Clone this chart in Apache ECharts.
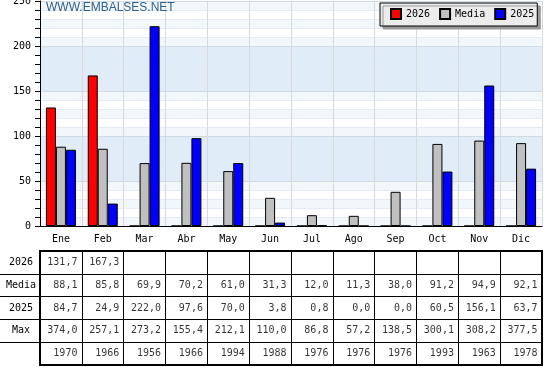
<!DOCTYPE html>
<html><head><meta charset="utf-8">
<script src="https://cdn.jsdelivr.net/npm/echarts@6/dist/echarts.min.js"></script>
<style>html,body{margin:0;padding:0;background:#fff}#c{width:560px;height:375px}</style>
</head><body><div id="c"></div>
<script>
const months = ['Ene','Feb','Mar','Abr','May','Jun','Jul','Ago','Sep','Oct','Nov','Dic'];
const rowLabels = ['2026','Media','2025','Max',''];
const v2026 = [131.7,167.3,null,null,null,null,null,null,null,null,null,null];
const vMedia = [88.1,85.8,69.9,70.2,61.0,31.3,12.0,11.3,38.0,91.2,94.9,92.1];
const v2025 = [84.7,24.9,222.0,97.6,70.0,3.8,0.8,0.0,0.0,60.5,156.1,63.7];
const vMax = [374.0,257.1,273.2,155.4,212.1,110.0,86.8,57.2,138.5,300.1,308.2,377.5];
const maxYears = [1970,1966,1956,1966,1994,1988,1976,1976,1976,1993,1963,1978];
const yTicks = [0,50,100,150,200,250];

const FONT = 'DejaVu Sans Mono';
function fmt(v){ return v.toFixed(1).replace('.', ','); }

const tableRows = [v2026, vMedia, v2025, vMax, maxYears];
const cells = [];
tableRows.forEach((row, r) => row.forEach((v, i) => {
  if (v != null) cells.push({value: [i, r], text: r === 4 ? String(v) : fmt(v)});
}));

const light = ['#f2f7fc', '#ffffff'];
const dark = ['#e0edf8', '#e0edf8'];
const bandColors = [light[0],light[1],light[0],light[1],light[0], dark[0],dark[1],dark[0],dark[1],dark[0]];

const chart = echarts.init(document.getElementById('c'), null, {renderer: 'canvas'});
chart.setOption({
  animation: false,
  title: {text: 'WWW.EMBALSES.NET', left: 46, top: 2, padding: 0,
    textStyle: {fontFamily: 'Liberation Sans', fontSize: 12, fontWeight: 'normal', color: '#2e5f8a'}},
  legend: {left: 380, top: 3, orient: 'horizontal', itemWidth: 10, itemHeight: 10, itemGap: 9,
    padding: [5, 3, 6, 10], backgroundColor: '#ececec', borderColor: '#000', borderWidth: 1,
    shadowColor: '#999', shadowOffsetX: 3, shadowOffsetY: 3, shadowBlur: 0, icon: 'rect',
    textStyle: {fontFamily: FONT, fontSize: 10, color: '#000'},
    data: ['2026', 'Media', '2025']},
  grid: [
    {left: 40, right: 18, top: 1, height: 225, outerBoundsMode: 'none', containLabel: false},
    {left: 40, right: 18, top: 251, height: 114, show: true, borderColor: '#000', borderWidth: 2, backgroundColor: 'transparent', outerBoundsMode: 'none', containLabel: false},
    {left: 0, width: 40, top: 251, height: 114, outerBoundsMode: 'none', containLabel: false}
  ],
  xAxis: [
    {gridIndex: 0, type: 'category', data: months,
      axisLine: {lineStyle: {color: '#000'}},
      axisTick: {inside: true, length: 6, interval: 0, lineStyle: {color: '#000'}},
      axisLabel: {color: '#000', fontFamily: FONT, fontSize: 10, margin: 8, interval: 0},
      splitLine: {show: true, interval: 0, lineStyle: {color: '#d9d9d9'}}},
    {gridIndex: 1, type: 'category', data: months,
      axisLine: {show: false}, axisTick: {show: false}, axisLabel: {show: false},
      splitLine: {show: true, interval: 0, showMinLine: false, showMaxLine: false, lineStyle: {color: '#000'}}},
    {gridIndex: 2, type: 'category', data: [''], show: false}
  ],
  yAxis: [
    {gridIndex: 0, type: 'value', min: 0, max: 250, interval: 10,
      axisLine: {show: true, lineStyle: {color: '#000'}},
      axisTick: {show: true, length: 5, lineStyle: {color: '#000'}},
      axisLabel: {color: '#000', fontFamily: FONT, fontSize: 10, margin: 9,
        formatter: v => yTicks.includes(v) ? String(v) : ''},
      splitLine: {show: true, lineStyle: {color: ['#d2dae2', '#e4ebf2', '#e4ebf2', '#e4ebf2', '#e4ebf2']}},
      splitArea: {show: true, areaStyle: {color: bandColors}}},
    {gridIndex: 1, type: 'category', inverse: true, data: rowLabels,
      axisLine: {show: false}, axisTick: {show: false},
      axisLabel: {color: '#000', fontFamily: FONT, fontSize: 10, margin: 19, align: 'center', interval: 0},
      splitLine: {show: true, interval: 0, showMinLine: false, showMaxLine: false, lineStyle: {color: '#000'}}},
    {gridIndex: 2, type: 'category', inverse: true, data: rowLabels,
      axisLine: {show: false}, axisTick: {show: false}, axisLabel: {show: false},
      splitLine: {show: true, interval: 0, showMinLine: false, showMaxLine: false, lineStyle: {color: '#000'}}}
  ],
  series: [
    {name: '2026', type: 'bar', xAxisIndex: 0, yAxisIndex: 0, barWidth: 10, barGap: '0%',
      data: v2026.map(v => v == null ? 0 : v),
      itemStyle: {color: '#ff0000', borderColor: '#000', borderWidth: 1}},
    {name: 'Media', type: 'bar', xAxisIndex: 0, yAxisIndex: 0, barWidth: 10, barGap: '0%',
      data: vMedia, itemStyle: {color: '#c0c0c0', borderColor: '#000', borderWidth: 1}},
    {name: '2025', type: 'bar', xAxisIndex: 0, yAxisIndex: 0, barWidth: 10, barGap: '0%',
      data: v2025, itemStyle: {color: '#0000ff', borderColor: '#000', borderWidth: 1}},
    {name: 'tabla', type: 'scatter', xAxisIndex: 1, yAxisIndex: 1, symbol: 'rect', symbolSize: [41, 22],
      silent: true, itemStyle: {color: 'rgba(0,0,0,0)'},
      label: {show: true, position: 'insideRight', distance: 4, color: '#000', fontFamily: FONT, fontSize: 10,
        formatter: p => p.data.text},
      data: cells}
  ]
});
</script>
</body></html>
